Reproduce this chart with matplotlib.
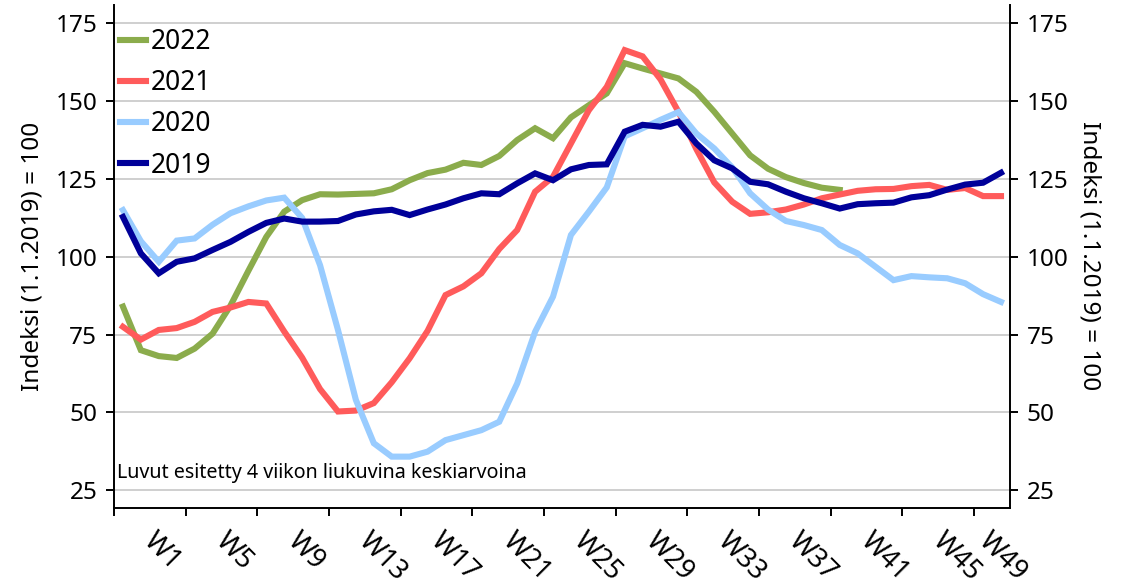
import matplotlib
matplotlib.use("Agg")
import matplotlib.pyplot as plt
import matplotlib.transforms as mtransforms

plt.rcParams['font.family'] = ['Noto Sans', 'DejaVu Sans']

# weekly index values, 4-week moving average (1.1.2019 = 100)
weeks = [f"W{k}" for k in range(1, 51)]

y2019 = [112.8, 101.1, 94.7, 98.4, 99.5, 102.2, 104.8, 108.0, 110.9, 112.3,
         111.3, 111.3, 111.5, 113.6, 114.6, 115.1, 113.4, 115.2, 116.8, 118.8,
         120.4, 120.1, 123.6, 126.8, 124.6, 128.1, 129.5, 129.7, 140.2, 142.4,
         141.8, 143.4, 136.4, 131.0, 128.4, 124.1, 123.3, 120.9, 118.8, 117.2,
         115.5, 116.9, 117.2, 117.4, 119.1, 119.8, 121.6, 123.2, 123.8, 127.0]

y2020 = [115.0, 105.0, 98.4, 105.2, 105.9, 110.3, 114.0, 116.2, 118.1, 119.0,
         112.5, 97.3, 76.5, 54.0, 40.1, 35.8, 35.8, 37.4, 41.1, 42.7,
         44.3, 47.0, 59.3, 75.9, 87.2, 107.0, 114.5, 122.3, 138.7, 141.3,
         144.0, 146.5, 139.6, 134.8, 128.7, 120.4, 115.2, 111.5, 110.2, 108.6,
         103.8, 101.1, 96.8, 92.5, 93.8, 93.4, 93.1, 91.5, 88.0, 85.5]

y2021 = [77.5, 73.4, 76.5, 77.1, 79.1, 82.3, 83.7, 85.5, 85.0, 76.0,
         67.6, 57.5, 50.3, 50.6, 53.0, 59.7, 67.4, 76.2, 87.7, 90.5,
         94.7, 102.5, 108.6, 120.9, 125.7, 136.4, 147.1, 154.6, 166.4, 164.4,
         157.0, 146.6, 134.6, 123.9, 117.7, 113.8, 114.3, 115.2, 116.8, 118.8,
         120.0, 121.2, 121.7, 121.8, 122.7, 123.1, 121.5, 122.1, 119.5, 119.5]

y2022 = [84.0, 70.0, 68.1, 67.5, 70.5, 75.3, 84.3, 95.5, 106.4, 114.5,
         118.2, 120.1, 120.0, 120.2, 120.4, 121.7, 124.6, 126.9, 128.0, 130.2,
         129.5, 132.4, 137.5, 141.3, 138.1, 144.8, 148.7, 152.5, 162.2, 160.5,
         158.9, 157.3, 153.0, 146.6, 139.6, 132.6, 128.3, 125.6, 123.7, 122.2,
         121.5]

series = [("2022", y2022, "#8BAC4C"),
          ("2021", y2021, "#FF5B5B"),
          ("2020", y2020, "#99CCFF"),
          ("2019", y2019, "#000099")]

yticks = [25, 50, 75, 100, 125, 150, 175]
ylabel = "Indeksi (1.1.2019) = 100"
note = "Luvut esitetty 4 viikon liukuvina keskiarvoina"

fig = plt.figure(figsize=(11.33, 5.87), dpi=100)
ax = fig.add_axes([0.1006, 0.1346, 0.7908, 0.8569])

for name, vals, col in series:
    ax.plot(range(len(vals)), vals, color=col, lw=4.4, label=name,
            solid_joinstyle='miter', zorder=3)

ax.set_xlim(-0.5, len(weeks) - 0.5)
ax.set_ylim(19.3, 180.9)
ax.set_yticks(yticks)
ax.grid(axis='y', color='#CCCCCC', lw=1.3, zorder=0)
ax.set_axisbelow(True)

ax.spines['top'].set_visible(False)
for s in ['left', 'right', 'bottom']:
    ax.spines[s].set_linewidth(1.4)

ax.tick_params(axis='y', labelsize=17.5, length=6, width=1.4, pad=6,
               left=True, right=True, labelright=True)

# x axis: boundary tick marks, labels every 4th week
ax.set_xticks([i - 0.5 for i in range(0, len(weeks), 4)], minor=True)
ax.set_xticks(range(0, len(weeks), 4))
ax.set_xticklabels(weeks[::4])
ax.tick_params(axis='x', which='minor', length=6, width=1.4)
ax.tick_params(axis='x', which='major', length=0, pad=0, labelsize=19.5)
labels = ax.get_xticklabels()
for k, lab in enumerate(labels):
    dx = 0.25 if k < len(labels) - 1 else 0.0
    lab.set_rotation(-45)
    lab.set_rotation_mode('anchor')
    lab.set_ha('left')
    lab.set_va('center')
    lab.set_transform(lab.get_transform() +
                      mtransforms.ScaledTranslation(dx, -0.29, fig.dpi_scale_trans))

ax.set_ylabel(ylabel, fontsize=17.5)
ax.yaxis.set_label_coords(-0.091, 0.5)
ax.yaxis.label.set_va('center')

fig.text(1090 / 1133, 1 - 256 / 587, ylabel, rotation=270, fontsize=17.5,
         ha='center', va='center')

ax.text(0.003, 0.049, note, transform=ax.transAxes, fontsize=14.2,
        ha='left', va='bottom', zorder=4)

ax.legend(loc='upper left', bbox_to_anchor=(6 / 896, 1 - 23 / 503),
          frameon=False, fontsize=19, handlelength=0.97, handletextpad=0.2,
          labelspacing=0.5, borderpad=0, borderaxespad=0)

fig.savefig("out.png", dpi=100)
